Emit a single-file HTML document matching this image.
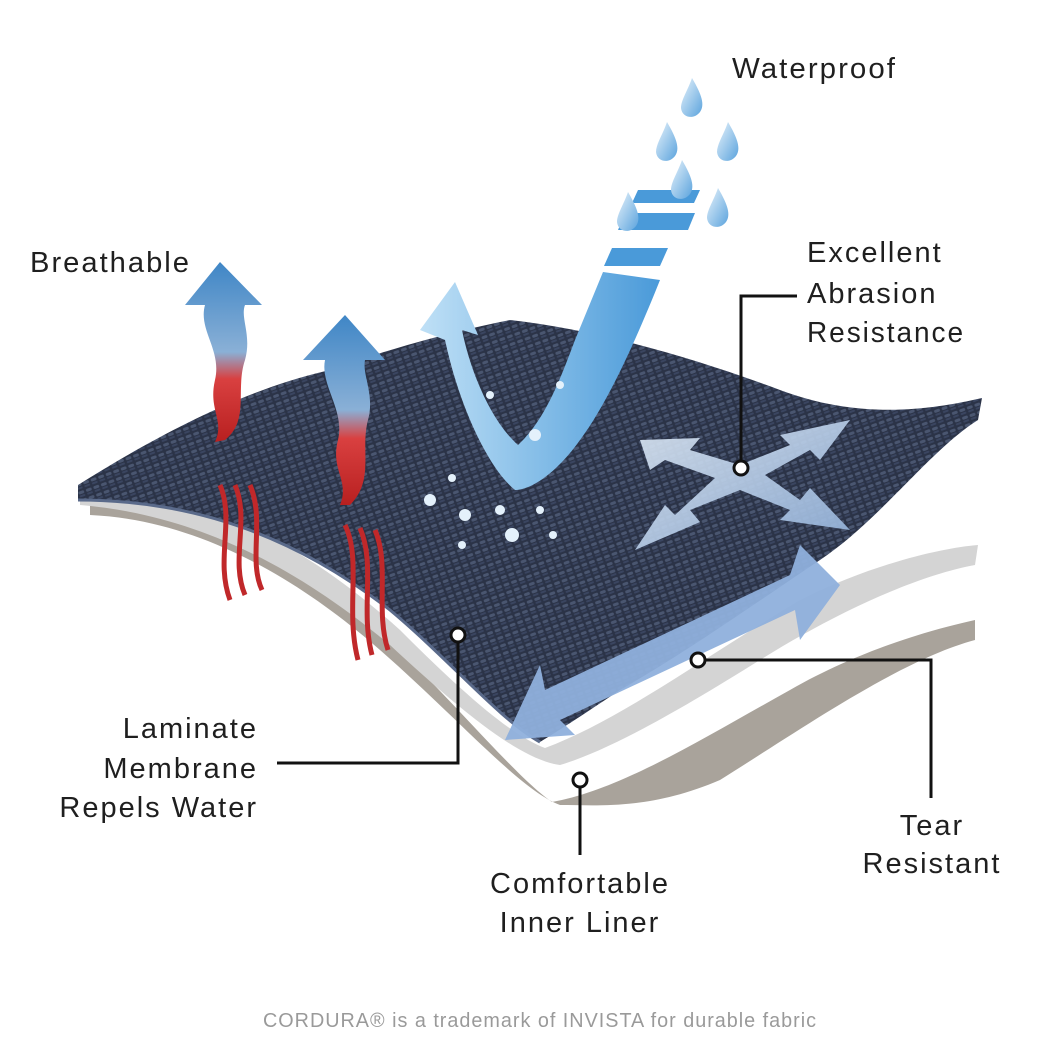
<!DOCTYPE html>
<html><head><meta charset="utf-8"><style>
html,body{margin:0;padding:0;background:#fff;width:1064px;height:1064px;overflow:hidden}
svg{display:block}
text{font-family:"Liberation Sans",sans-serif;fill:#1f1f1f;letter-spacing:2px}
</style></head><body>
<svg width="1064" height="1064" viewBox="0 0 1064 1064">
<defs>
<pattern id="weave" width="8" height="8" patternUnits="userSpaceOnUse" patternTransform="rotate(-20)">
<rect width="8" height="8" fill="#2b3347"/>
<rect x="1" y="1" width="6" height="3" rx="1.5" fill="#4a5670"/>
<rect x="1" y="5" width="6" height="2" rx="1" fill="#3a4560"/>
</pattern>
<linearGradient id="br" x1="0" y1="0" x2="0" y2="1">
<stop offset="0" stop-color="#3f86c6"/><stop offset="0.5" stop-color="#8ab0d6"/><stop offset="0.65" stop-color="#d94040"/><stop offset="1" stop-color="#b82020"/>
</linearGradient>
<linearGradient id="drop" x1="0" y1="0" x2="1" y2="1">
<stop offset="0" stop-color="#e8f3fb"/><stop offset="1" stop-color="#5ba3dd"/>
</linearGradient>
<linearGradient id="vg" x1="0" y1="0" x2="1" y2="0">
<stop offset="0" stop-color="#bfe0f6"/><stop offset="1" stop-color="#4a9ad9"/>
</linearGradient>
<linearGradient id="xg" x1="0" y1="0" x2="1" y2="1">
<stop offset="0" stop-color="#dfeaf6"/><stop offset="1" stop-color="#93b3dc"/>
</linearGradient>
</defs>

<path d="M90,505 C200,500 300,560 400,650 C470,720 520,780 552,802 C620,790 700,740 790,690 C860,650 930,630 975,620 L975,640 C900,660 800,730 720,780 C650,810 600,805 560,805 C520,790 460,720 380,650 C300,580 200,520 90,515 Z" fill="#a9a39b"/>
<path d="M80,495 C200,490 300,540 400,630 C460,690 510,735 545,748 C620,720 700,660 800,600 C870,565 940,548 978,545 L975,565 C920,575 840,610 760,660 C680,710 610,750 560,765 C520,760 460,710 390,645 C300,570 200,515 80,505 Z" fill="#d4d4d4"/>
<path d="M78,485 C150,440 240,390 330,370 C400,345 460,330 510,320 C600,330 700,360 780,390 C860,420 930,410 982,398 L978,420 C930,450 880,520 820,560 C760,600 690,650 620,690 C590,710 560,730 540,742 C500,720 450,660 390,610 C300,540 200,500 78,500 Z" fill="url(#weave)"/>
<path d="M78,500 C200,500 300,540 390,610 C450,660 500,720 540,742" fill="none" stroke="#5a6a8a" stroke-width="3"/>

<g fill="none" stroke="#c0282a" stroke-width="5">
<path d="M220,485 C235,520 215,560 230,600"/><path d="M235,485 C250,520 230,560 245,595"/><path d="M250,485 C265,520 248,560 262,590"/>
<path d="M345,525 C362,560 345,610 358,660"/><path d="M360,528 C376,565 360,610 372,655"/><path d="M375,530 C390,565 375,610 388,650"/>
</g>

<path d="M225,440 C250,420 235,390 245,360 C252,335 240,318 245,305 L262,305 L220,262 L185,305 L205,305 C198,330 222,350 215,380 C208,410 225,420 215,442 Z" fill="url(#br)"/>
<path d="M350,505 C375,480 360,450 368,420 C375,395 362,375 365,360 L385,360 L345,315 L303,360 L325,360 C320,385 345,410 338,440 C330,470 350,480 340,505 Z" fill="url(#br)"/>

<path d="M420,330 L455,282 L478,335 L462,330 C470,370 490,420 518,445 C545,420 560,380 575,340 L603,272 L660,280 C640,330 610,400 580,440 C555,475 530,490 515,490 C490,470 460,410 445,340 Z" fill="url(#vg)"/>
<polygon points="612,248 668,248 660,266 604,266" fill="#4a9ad9"/>
<polygon points="625,213 695,213 688,230 618,230" fill="#4a9ad9"/>
<polygon points="638,190 700,190 694,203 632,203" fill="#4a9ad9"/>
<g fill="url(#drop)">
<path d="M692,78 C702,95 705,105 700,112 C694,120 682,118 681,108 C681,100 688,90 692,78 Z"/>
<path d="M667,122 C677,139 680,149 675,156 C669,164 657,162 656,152 C656,144 663,134 667,122 Z"/>
<path d="M728,122 C738,139 741,149 736,156 C730,164 718,162 717,152 C717,144 724,134 728,122 Z"/>
<path d="M682,160 C692,177 695,187 690,194 C684,202 672,200 671,190 C671,182 678,172 682,160 Z"/>
<path d="M628,192 C638,209 641,219 636,226 C630,234 618,232 617,222 C617,214 624,204 628,192 Z"/>
<path d="M718,188 C728,205 731,215 726,222 C720,230 708,228 707,218 C707,210 714,200 718,188 Z"/>
</g>
<g fill="#e4f1fb">
<circle cx="430" cy="500" r="6"/><circle cx="452" cy="478" r="4"/><circle cx="465" cy="515" r="6"/><circle cx="500" cy="510" r="5"/><circle cx="512" cy="535" r="7"/><circle cx="540" cy="510" r="4"/><circle cx="553" cy="535" r="4"/><circle cx="462" cy="545" r="4"/><circle cx="490" cy="395" r="4"/><circle cx="535" cy="435" r="6"/><circle cx="560" cy="385" r="4"/>
</g>

<path d="M640,440 L700,438 L690,450 L740,465 L790,445 L780,435 L850,420 L820,460 L810,450 L765,475 L800,500 L810,488 L850,530 L780,520 L790,510 L740,490 L690,510 L700,522 L635,550 L665,505 L675,515 L715,478 L665,460 L650,470 Z" fill="url(#xg)" opacity="0.9"/>

<path d="M505,740 L540,665 L545,690 L790,575 L800,545 L840,585 L800,640 L795,610 L560,720 L575,735 Z" fill="#8fb0dc" opacity="0.95"/>

<g fill="none" stroke="#111" stroke-width="3">
<path d="M741,462 V296 H797"/>
<path d="M458,642 V763 H277"/>
<path d="M580,787 V855"/>
<path d="M705,660 H931 V798"/>
</g>
<g fill="#fff" stroke="#111" stroke-width="3">
<circle cx="741" cy="468" r="7"/><circle cx="458" cy="635" r="7"/><circle cx="580" cy="780" r="7"/><circle cx="698" cy="660" r="7"/>
</g>

<g font-size="29">
<text x="732" y="78" textLength="165" lengthAdjust="spacingAndGlyphs">Waterproof</text>
<text x="30" y="272" textLength="161" lengthAdjust="spacingAndGlyphs">Breathable</text>
<text x="807" y="262">Excellent</text>
<text x="807" y="303">Abrasion</text>
<text x="807" y="342" textLength="158" lengthAdjust="spacingAndGlyphs">Resistance</text>
<text x="258" y="738" text-anchor="end">Laminate</text>
<text x="258" y="778" text-anchor="end">Membrane</text>
<text x="258" y="817" text-anchor="end">Repels Water</text>
<text x="580" y="893" text-anchor="middle">Comfortable</text>
<text x="580" y="932" text-anchor="middle">Inner Liner</text>
<text x="932" y="835" text-anchor="middle">Tear</text>
<text x="932" y="873" text-anchor="middle">Resistant</text>
</g>
<text x="540" y="1027" font-size="20" text-anchor="middle" textLength="554" lengthAdjust="spacingAndGlyphs" style="fill:#9a9a9a;letter-spacing:1px">CORDURA® is a trademark of INVISTA for durable fabric</text>
</svg>
</body></html>
